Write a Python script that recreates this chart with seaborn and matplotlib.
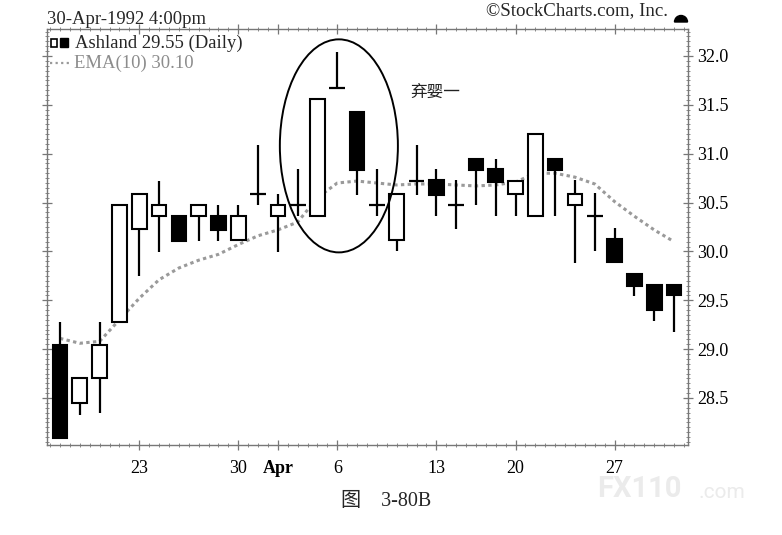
import numpy as np
import pandas as pd
import matplotlib
matplotlib.use('Agg')
import matplotlib.pyplot as plt
import seaborn as sns
from matplotlib.patches import Ellipse, Rectangle, Wedge
from matplotlib.lines import Line2D
from matplotlib.ticker import FixedLocator, MultipleLocator

# Ashland, daily, 17-Mar-1992 .. 30-Apr-1992 (Good Friday 17-Apr closed)
dates = ['Mar 17', 'Mar 18', 'Mar 19', 'Mar 20', 'Mar 23', 'Mar 24', 'Mar 25', 'Mar 26',
         'Mar 27', 'Mar 30', 'Mar 31', 'Apr 1', 'Apr 2', 'Apr 3', 'Apr 6', 'Apr 7',
         'Apr 8', 'Apr 9', 'Apr 10', 'Apr 13', 'Apr 14', 'Apr 15', 'Apr 16', 'Apr 20',
         'Apr 21', 'Apr 22', 'Apr 23', 'Apr 24', 'Apr 27', 'Apr 28', 'Apr 29', 'Apr 30']
opens = [29.04, 28.45, 28.70, 29.28, 30.23, 30.36, 30.36, 30.36,
         30.36, 30.12, 30.59, 30.36, 30.48, 30.36, 31.67, 31.43,
         30.48, 30.12, 30.72, 30.73, 30.48, 30.95, 30.84, 30.59,
         30.36, 30.95, 30.47, 30.36, 30.13, 29.77, 29.66, 29.66]
highs = [29.28, 28.70, 29.28, 30.47, 30.59, 30.72, 30.36, 30.47,
         30.47, 30.47, 31.09, 30.59, 30.84, 31.56, 32.04, 31.43,
         30.84, 30.59, 31.09, 30.84, 30.73, 30.95, 30.95, 30.72,
         31.20, 30.95, 30.73, 30.60, 30.24, 29.77, 29.66, 29.66]
lows = [28.09, 28.33, 28.35, 29.28, 29.75, 29.99, 30.11, 30.11,
        30.11, 30.12, 30.47, 29.99, 30.36, 30.36, 31.67, 30.58,
        30.36, 30.00, 30.58, 30.36, 30.23, 30.47, 30.36, 30.36,
        30.36, 30.36, 29.88, 30.00, 29.89, 29.54, 29.29, 29.18]
closes = [28.09, 28.70, 29.04, 30.47, 30.59, 30.47, 30.11, 30.47,
          30.22, 30.36, 30.59, 30.47, 30.48, 31.56, 31.67, 30.83,
          30.48, 30.59, 30.72, 30.58, 30.48, 30.83, 30.71, 30.72,
          31.20, 30.83, 30.59, 30.36, 29.89, 29.65, 29.40, 29.55]
ema10 = [29.11, 29.06, 29.08, 29.30, 29.52, 29.71, 29.83, 29.91,
         29.97, 30.07, 30.16, 30.22, 30.30, 30.55, 30.70, 30.72,
         30.70, 30.68, 30.69, 30.69, 30.68, 30.67, 30.68, 30.71,
         30.80, 30.80, 30.76, 30.69, 30.51, 30.36, 30.22, 30.10]

tick_dates = ['Mar 23', 'Mar 30', 'Apr 1', 'Apr 6', 'Apr 13', 'Apr 20', 'Apr 27']
tick_labels = ['23', '30', 'Apr', '6', '13', '20', '27']
price_ticks = [28.5, 29.0, 29.5, 30.0, 30.5, 31.0, 31.5, 32.0]

sns.set_style('white')
plt.rcParams['font.family'] = ['Liberation Serif', 'Noto Sans CJK SC', 'DejaVu Sans']

W, H = 782, 535
fig = plt.figure(figsize=(W / 100, H / 100), dpi=100)
fig.patch.set_facecolor('white')


def fx(px):
    return px / W


def fy(py):
    return 1 - py / H


ax = fig.add_axes([fx(47), fy(445), (688 - 47) / W, (445 - 29) / H])

df = pd.DataFrame({'date': dates, 'open': opens, 'high': highs,
                   'low': lows, 'close': closes, 'ema': ema10})
df['x'] = np.arange(len(df))
df['bottom'] = df[['open', 'close']].min(axis=1)
df['height'] = (df['close'] - df['open']).abs()
df['up'] = df['close'] >= df['open']
doji = df['height'] < 0.03

# EMA(10) dotted gray line
sns.lineplot(data=df, x='x', y='ema', ax=ax, color='#9a9a9a', linewidth=2.2,
             linestyle=(0, (1.1, 1.1)), zorder=1)

# wicks
ax.vlines(df['x'], df['low'], df['high'], color='black', linewidth=1.6, zorder=2)

# bodies
body = df[~doji]
ax.bar(body['x'], body['height'], bottom=body['bottom'], width=0.74,
       color=np.where(body['up'], 'white', 'black'), edgecolor='black',
       linewidth=1.5, zorder=3)
# doji crosses
dj = df[doji]
ax.hlines(dj['close'], dj['x'] - 0.4, dj['x'] + 0.4, color='black', linewidth=1.6, zorder=3)

# abandoned baby highlight
ax.add_patch(Ellipse((14.08, 31.08), 5.96, 2.18, fill=False, edgecolor='black',
                     linewidth=1.4, zorder=4))
ax.text(17.67, 31.63, '弃婴一', family=['Noto Sans CJK SC', 'DejaVu Sans'],
        fontsize=12, va='center', ha='left', color='#222222')

ax.set_xlim(-0.656, 31.707)
ax.set_ylim(28.019, 32.276)
ax.set_xlabel('')
ax.set_ylabel('')

# axes / ticks
xpos = [dates.index(d) for d in tick_dates]
ax.xaxis.set_major_locator(FixedLocator(xpos))
ax.set_xticklabels(tick_labels)
ax.xaxis.set_minor_locator(MultipleLocator(0.5))
ax.yaxis.tick_right()
ax.yaxis.set_major_locator(FixedLocator(price_ticks))
ax.set_yticklabels([f'{p:.1f}' for p in price_ticks])
ax.yaxis.set_minor_locator(MultipleLocator(0.05))
ax.tick_params(axis='both', which='both', direction='inout', colors='#777777',
               labelcolor='black', top=True, bottom=True, left=True, right=True,
               labelleft=False, labeltop=False)
ax.tick_params(axis='x', which='major', length=7, width=0.9, labelsize=13, pad=7)
ax.tick_params(axis='y', which='major', length=7, width=0.9, labelsize=13, pad=3)
ax.tick_params(which='minor', length=2.5, width=0.6)
for lab in ax.get_xticklabels():
    if lab.get_text() == 'Apr':
        lab.set_fontweight('bold')
for sp in ax.spines.values():
    sp.set_color('#777777')
    sp.set_linewidth(1.0)
    sp.set_visible(True)

# header texts
fig.text(fx(47), fy(19), '30-Apr-1992 4:00pm', fontsize=13.4, va='center', ha='left')
fig.text(fx(668), fy(11), '©StockCharts.com, Inc.', fontsize=13.6, va='center', ha='right')
fig.patches.append(Wedge((681 / 100, (H - 22) / 100), 0.065, 0, 180, color='black',
                         transform=fig.dpi_scale_trans, figure=fig))

# legend
fig.patches.append(Rectangle((fx(51), fy(47)), 6 / W, 8 / H, facecolor='white',
                             edgecolor='black', linewidth=1.2,
                             transform=fig.transFigure, figure=fig))
fig.patches.append(Rectangle((fx(60), fy(47)), 8 / W, 9 / H, facecolor='black',
                             edgecolor='black', linewidth=1.0,
                             transform=fig.transFigure, figure=fig))
fig.text(fx(75), fy(43), 'Ashland 29.55 (Daily)', fontsize=13.4, va='center', ha='left')
fig.lines.append(Line2D([fx(50), fx(71)], [fy(63), fy(63)], color='#9a9a9a',
                        linewidth=1.6, linestyle=(0, (1, 1.5)),
                        transform=fig.transFigure, figure=fig))
fig.text(fx(74), fy(63), 'EMA(10) 30.10', fontsize=13.4, va='center', ha='left',
         color='#8c8c8c')

# caption and watermark
fig.text(fx(386), fy(502), '图    3-80B', fontsize=14.5, va='center', ha='center',
         family=['Liberation Serif', 'Noto Sans CJK SC'])
fig.text(fx(597), fy(489), 'FX110', fontsize=21, fontweight='bold', va='center',
         ha='left', color='#ebebeb', family='Roboto')
fig.text(fx(698), fy(492), '.com', fontsize=15, va='center', ha='left',
         color='#ebebeb', family='Roboto')

fig.savefig('out.png', dpi=100, facecolor='white')
